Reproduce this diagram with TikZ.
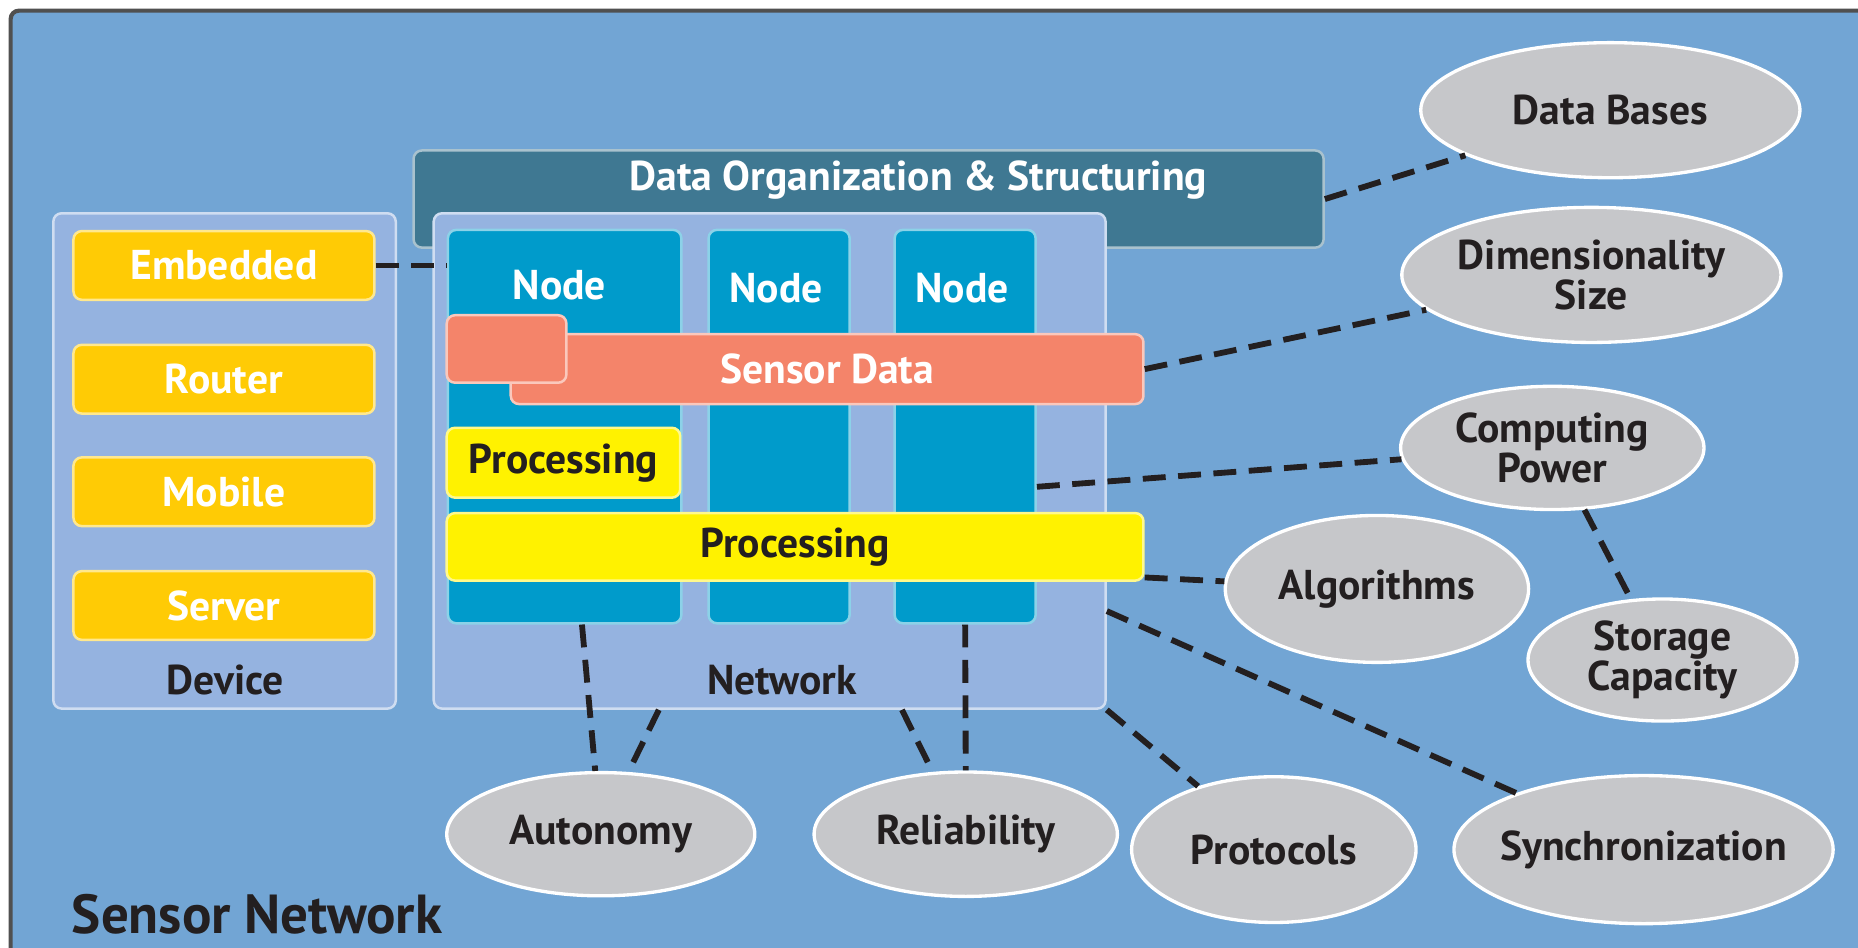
\documentclass[tikz,border=0pt]{standalone}
\usepackage{fontspec}
\setmainfont{PT Sans}
\usetikzlibrary{shapes.geometric}

\definecolor{skyback}{RGB}{114,165,212}
\definecolor{panel}{RGB}{149,179,224}
\definecolor{nodeblue}{RGB}{0,155,203}
\definecolor{orgteal}{RGB}{63,120,146}
\definecolor{salmon}{RGB}{244,132,106}
\definecolor{procyellow}{RGB}{255,242,0}
\definecolor{devgold}{RGB}{255,203,5}
\definecolor{ovalgray}{RGB}{198,199,202}
\definecolor{inkdark}{RGB}{35,31,32}
\definecolor{framegray}{RGB}{80,80,80}

\tikzset{
  txt/.style={font=\bfseries\fontsize{10}{9.6}\selectfont,text=inkdark,inner sep=0pt},
  wtxt/.style={txt,text=white},
  box/.style={rectangle,rounded corners=2pt,fill=#1,draw=white!55!#1,line width=0.6pt,inner sep=0pt},
  oval/.style={ellipse,fill=ovalgray,draw=white,line width=0.8pt,inner sep=0pt,align=center,txt},
  link/.style={line width=1.4pt,dash pattern=on 5.5pt off 3pt,inkdark}
}

\begin{document}
\begin{tikzpicture}
	  \useasboundingbox (0,0) rectangle (15.68,-8);
	  \fill[white] (0,0) rectangle (15.68,-8);
	  \clip (0,0) rectangle (15.68,-8);
	  \draw[fill=skyback,draw=framegray,line width=1pt,rounded corners=2pt] (0.09,-0.09) rectangle (15.9,-8.2);
	  % back panels
	  \node[box=orgteal,minimum width=7.68cm,minimum height=0.82cm] (dorg) at (7.33,-1.68) {};
	  \node[wtxt] (dorgtxt) at (7.75,-1.52) {Data Organization \& Structuring};
	  \node[box=panel,minimum width=2.89cm,minimum height=4.18cm] (device) at (1.895,-3.89) {};
	  \node[box=panel,minimum width=5.67cm,minimum height=4.18cm] (net) at (6.495,-3.89) {};
	  \node[txt] (devtxt) at (1.90,-5.74) {Device};
	  \node[txt] (nettxt) at (6.60,-5.74) {Network};
	  % devices
	  \node[box=devgold,wtxt,minimum width=2.54cm,minimum height=0.58cm] (emb) at (1.89,-2.24) {Embedded};
	  \node[box=devgold,wtxt,minimum width=2.54cm,minimum height=0.58cm] (rout) at (1.89,-3.20) {Router};
	  \node[box=devgold,wtxt,minimum width=2.54cm,minimum height=0.58cm] (mob) at (1.89,-4.15) {Mobile};
	  \node[box=devgold,wtxt,minimum width=2.54cm,minimum height=0.58cm] (serv) at (1.89,-5.11) {Server};
	  % nodes
	  \node[box=nodeblue,minimum width=1.97cm,minimum height=3.32cm] (col1) at (4.765,-3.60) {};
	  \node[box=nodeblue,minimum width=1.19cm,minimum height=3.32cm] (col2) at (6.575,-3.60) {};
	  \node[box=nodeblue,minimum width=1.19cm,minimum height=3.32cm] (col3) at (8.145,-3.60) {};
	  \node[wtxt] (n1) at (4.72,-2.41) {Node};
	  \node[wtxt] (n2) at (6.55,-2.43) {Node};
	  \node[wtxt] (n3) at (8.12,-2.43) {Node};
	  \node[box=salmon,wtxt,minimum width=5.34cm,minimum height=0.59cm] (sdata) at (6.98,-3.115) {Sensor Data};
	  \node[box=salmon,minimum width=1.01cm,minimum height=0.57cm] (sdsmall) at (4.275,-2.945) {};
	  \node[box=procyellow,txt,minimum width=1.97cm,minimum height=0.59cm] (proc1) at (4.755,-3.905) {Processing};
	  \node[box=procyellow,txt,minimum width=5.88cm,minimum height=0.57cm] (proc2) at (6.71,-4.615) {Processing};
	  % properties
	  \node[oval,minimum width=3.20cm,minimum height=1.14cm] (dbases) at (13.59,-0.93) {Data Bases};
	  \node[oval,minimum width=3.20cm,minimum height=1.14cm,inner xsep=-2mm] (dimsize) at (13.43,-2.32) {Dimensionality\\Size};
	  \node[oval,minimum width=2.56cm,minimum height=1.04cm] (comp) at (13.10,-3.78) {Computing\\Power};
	  \node[oval,minimum width=2.56cm,minimum height=1.24cm] (algo) at (11.62,-4.97) {Algorithms};
	  \node[oval,minimum width=2.27cm,minimum height=1.03cm] (storage) at (14.03,-5.57) {Storage\\Capacity};
	  \node[oval,minimum width=2.60cm,minimum height=1.04cm] (auto) at (5.07,-7.04) {Autonomy};
	  \node[oval,minimum width=2.56cm,minimum height=1.05cm] (rel) at (8.15,-7.04) {Reliability};
	  \node[oval,minimum width=2.40cm,minimum height=1.23cm] (proto) at (10.75,-7.17) {Protocols};
	  \node[oval,minimum width=3.20cm,minimum height=1.25cm,inner xsep=-4mm] (sync) at (13.87,-7.17) {Synchronization};
	  \node[txt,font=\bfseries\fontsize{13.2}{15}\selectfont,anchor=base west] (title) at (0.60,-7.88) {Sensor Network};
	  % links
	  \draw[link] (emb.east) -- (col1.west |- emb.east);
	  \draw[link] (dorg.east) -- (dbases);
	  \draw[link] (sdata.east) -- (dimsize);
	  \draw[link] (col3.-40) -- (comp);
	  \draw[link] (proc2.-5) -- (algo);
	  \draw[link] (comp) -- (storage);
	  \draw[link] (net.-24) -- (sync);
	  \draw[link] (net.south east) -- (proto);
	  \draw[link] (col1.-85) -- (auto.95);
	  \draw[link] (net.-114) -- (auto.66);
	  \draw[link] (net.-62) -- (rel.118);
	  \draw[link] (col3.south) -- (rel.north);
\end{tikzpicture}
\end{document}
